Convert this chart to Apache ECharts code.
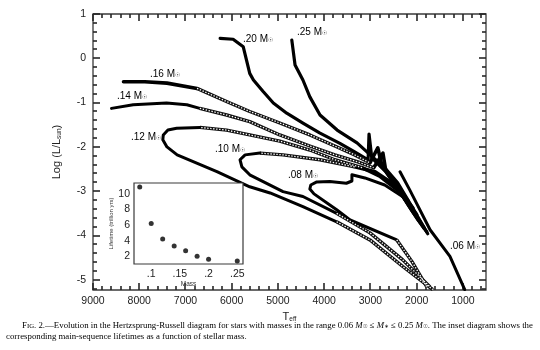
<!DOCTYPE html>
<html><head><meta charset="utf-8">
<script src="https://cdn.jsdelivr.net/npm/echarts@6/dist/echarts.min.js"></script>
<style>html,body{margin:0;padding:0;background:#fff}#c{width:540px;height:350px}</style>
</head><body><div id="c"></div>
<script>
// Evolutionary tracks: [Teff (K), log L/Lsun]
const track25 = [[4700,0.41],[4630,-0.15],[4460,-0.49],[4310,-0.87],[4090,-1.28],[3720,-1.62],[3290,-1.91],[2950,-2.23],[2690,-2.47],[2410,-2.81],[2100,-3.35],[1760,-3.96]];
const track20 = [[6250,0.45],[5970,0.43],[5750,0.26],[5680,-0.04],[5610,-0.34],[5530,-0.49],[5320,-0.75],[5100,-1.01],[4810,-1.24],[4450,-1.47],[4090,-1.69],[3660,-1.92],[3340,-2.11],[3050,-2.29],[3030,-1.71],[2970,-2.25],[2670,-2.56],[2320,-3.09],[1970,-3.65],[1780,-3.92]];
const track16Solid = [[8340,-0.53],[7880,-0.53],[7400,-0.56],[6750,-0.68]];
const track16Open = [[6750,-0.68],[6100,-0.98],[5610,-1.20],[4960,-1.46],[4310,-1.73],[3770,-1.98],[3340,-2.18],[3010,-2.36]];
const track16End = [[3010,-2.36],[2840,-2.02],[2750,-2.43],[2450,-2.86],[2100,-3.42],[1840,-3.83]];
const track14Solid = [[8600,-1.13],[8130,-1.05],[7410,-1.01],[6970,-1.05],[6690,-1.13]];
const track14Open = [[6690,-1.13],[6110,-1.28],[5610,-1.43],[4960,-1.73],[4310,-1.98],[3770,-2.18],[3270,-2.34],[2930,-2.47]];
const track14End = [[2930,-2.47],[2730,-2.14],[2670,-2.52],[2410,-2.93],[2080,-3.47],[1930,-3.69]];
const track12Start = [[2000,-3.53],[2360,-3.02],[2800,-2.66],[3180,-2.47]];
const track12Open = [[3180,-2.47],[3770,-2.29],[4310,-2.07],[4960,-1.87],[5610,-1.73],[6110,-1.62],[6690,-1.56]];
const track12Loop = [[6690,-1.56],[7190,-1.58],[7380,-1.62],[7480,-1.73],[7490,-1.84],[7400,-2.00],[7180,-2.18],[6320,-2.56],[5610,-2.90],[5170,-3.04],[4460,-3.35],[3730,-3.69]];
const track12Cool = [[3730,-3.69],[3010,-4.10],[2300,-4.70],[1650,-5.22]];
const track10Start = [[2080,-3.38],[2470,-2.86],[2900,-2.56],[3340,-2.45]];
const track10Open = [[3340,-2.45],[4090,-2.29],[4890,-2.18],[5390,-2.14]];
const track10Loop = [[5390,-2.14],[5710,-2.18],[5820,-2.29],[5780,-2.45],[5610,-2.63],[4890,-3.01],[4460,-3.12],[3730,-3.50]];
const track10Cool = [[3730,-3.50],[3010,-3.94],[2300,-4.55],[1710,-5.16]];
const track08Loop = [[2190,-3.20],[2690,-2.86],[3120,-2.70],[3400,-2.63],[3400,-2.77],[3520,-2.82],[3880,-2.78],[4160,-2.79],[4290,-2.86],[4310,-2.95],[4220,-3.06],[3730,-3.42],[3440,-3.65],[2430,-4.10]];
const track08Cool = [[2430,-4.10],[2100,-4.59],[1780,-5.16]];
const track06 = [[2360,-2.56],[2150,-2.97],[1710,-3.87],[1280,-4.47],[960,-5.22]];

// Inset: main-sequence lifetime vs stellar mass
const insetMass = [0.08, 0.10, 0.12, 0.14, 0.16, 0.18, 0.20, 0.25];
const insetLifetime = [10.9, 6.2, 4.2, 3.3, 2.7, 2.0, 1.6, 1.4];

// Axis ranges and tick values
const X_RANGE = [500, 9000];
const Y_RANGE = [-5.23, 1];
const IX_RANGE = [0.07, 0.26];
const IY_RANGE = [1, 11.4];
const xMajor = [1000,2000,3000,4000,5000,6000,7000,8000,9000];
const yMajor = [-5,-4,-3,-2,-1,0,1];
const insetXMajor = [0.1, 0.15, 0.2, 0.25];
const insetYMajor = [2, 4, 6, 8, 10];

const xMinor = [];
for (let v = 600; v <= 8800; v += 200) if (v % 1000) xMinor.push(v);
const yMinor = [];
for (let i = -26; i <= 4; i++) if (i % 5) yMinor.push(i / 5);
const insetXMinor = [];
for (let i = 8; i <= 25; i++) if (i % 5) insetXMinor.push(i / 100);
const insetYMinor = [3, 5, 7, 9, 11];

const FONT = 'Liberation Sans, Arial, Helvetica, sans-serif';
const SERIF = 'Liberation Serif, Times New Roman, serif';
const AXC = '#3a3a3a';
const TICKC = '#262626';

const subRich = {
  a: {fontSize: 11, fontFamily: FONT, color: '#222', lineHeight: 12, padding: [0,0,3,0]},
  s: {fontSize: 6.5, fontFamily: FONT, color: '#222', lineHeight: 7}
};

const xAxes = [
  {type: 'value', gridIndex: 0, position: 'bottom', min: X_RANGE[0], max: X_RANGE[1], inverse: true,
   axisLine: {show: false}, axisTick: {show: false}, splitLine: {show: false},
   axisLabel: {customValues: xMajor, formatter: v => String(v), color: '#222', fontSize: 10.5, fontFamily: FONT, margin: 6},
   name: '{a|T}{s|eff}', nameLocation: 'middle', nameGap: 19, nameTextStyle: {rich: subRich}},
  {type: 'value', gridIndex: 1, position: 'bottom', min: IX_RANGE[0], max: IX_RANGE[1], z: 11,
   axisLine: {show: false}, axisTick: {show: false}, splitLine: {show: false},
   axisLabel: {customValues: insetXMajor, formatter: v => String(+v.toFixed(2)).replace(/^0\./, '.'),
               color: '#222', fontSize: 10.5, fontFamily: FONT, margin: 5},
   name: 'Mass', nameLocation: 'middle', nameGap: 12, nameTextStyle: {fontSize: 6.5, fontFamily: FONT, color: '#333'}}
];
const yAxes = [
  {type: 'value', gridIndex: 0, position: 'left', min: Y_RANGE[0], max: Y_RANGE[1],
   axisLine: {show: false}, axisTick: {show: false}, splitLine: {show: false},
   axisLabel: {customValues: yMajor, color: '#222', fontSize: 10.5, fontFamily: FONT, margin: 7},
   name: '{a|Log (L/L}{s|sun}{a|)}', nameLocation: 'middle', nameGap: 26, nameRotate: 90, nameTextStyle: {rich: subRich}},
  {type: 'value', gridIndex: 1, position: 'left', min: IY_RANGE[0], max: IY_RANGE[1], z: 11,
   axisLine: {show: false}, axisTick: {show: false}, splitLine: {show: false},
   axisLabel: {customValues: insetYMajor, color: '#222', fontSize: 10.5, fontFamily: FONT, margin: 4},
   name: 'Lifetime (trillion yrs)', nameLocation: 'middle', nameGap: 17, nameRotate: 90,
   nameTextStyle: {fontSize: 6, fontFamily: FONT, color: '#333'}}
];

function solid(data, w) {
  return {type: 'line', data: data, xAxisIndex: 0, yAxisIndex: 0, showSymbol: false, silent: true,
          lineStyle: {color: '#000', width: w || 3, cap: 'round', join: 'round'}, z: 3};
}
// chain-of-open-circles look: dark band with a dashed white core
function open(data) {
  return [
    {type: 'line', data: data, xAxisIndex: 0, yAxisIndex: 0, showSymbol: false, silent: true,
     lineStyle: {color: '#111', width: 3.4, join: 'round'}, z: 3},
    {type: 'line', data: data, xAxisIndex: 0, yAxisIndex: 0, showSymbol: false, silent: true,
     lineStyle: {color: '#fff', width: 1.3, type: [1.4, 1.6]}, z: 4}
  ];
}

const series = [].concat(
  solid(track25, 3.2), solid(track20, 3.2),
  solid(track16Solid, 3.6), open(track16Open), solid(track16End, 3.6),
  solid(track14Solid), open(track14Open), solid(track14End, 3.6),
  solid(track12Start, 3.6), open(track12Open), solid(track12Loop), open(track12Cool),
  solid(track10Start, 3.6), open(track10Open), solid(track10Loop), open(track10Cool),
  solid(track08Loop), open(track08Cool),
  solid(track06),
  [{type: 'scatter', xAxisIndex: 1, yAxisIndex: 1, symbol: 'circle', symbolSize: 5,
    itemStyle: {color: '#000'}, z: 12, silent: true,
    data: insetMass.map((m, i) => [m, insetLifetime[i]])}]
);

const labelRich = {
  a: {fontSize: 10, fontFamily: FONT, color: '#222', lineHeight: 11, padding: [0,0,2,0]},
  s: {fontSize: 6, fontFamily: 'DejaVu Sans, sans-serif', color: '#222', lineHeight: 6}
};
const trackLabels = [
  ['.25 M', 297, 33], ['.20 M', 243, 40], ['.16 M', 150, 75], ['.14 M', 117, 97],
  ['.12 M', 131, 138], ['.10 M', 215, 150], ['.08 M', 288, 176], ['.06 M', 450, 247]
];
const graphics = trackLabels.map(t => ({
  type: 'text', x: t[1], y: t[2],
  style: {text: '{a|' + t[0] + '}{s|\u2609}', rich: labelRich, align: 'left', verticalAlign: 'middle'}
}));

const capRich = {
  t: {fontSize: 8.8, fontFamily: SERIF, color: '#222', lineHeight: 10, padding: [0,0,2,0]},
  sc: {fontSize: 6.8, fontFamily: SERIF, color: '#222', lineHeight: 10, padding: [0,0,2,0]},
  i: {fontSize: 8.8, fontFamily: SERIF, fontStyle: 'italic', color: '#222', lineHeight: 10, padding: [0,0,2,0]},
  sub: {fontSize: 5.5, fontFamily: 'DejaVu Sans, sans-serif', color: '#222', lineHeight: 6}
};
graphics.push({
  type: 'text', x: 22, y: 327,
  style: {text: '{t|F}{sc|IG}{t|. 2.\u2014Evolution in the Hertzsprung-Russell diagram for stars with masses in the range 0.06 }{i|M}{sub|\u2609}{t| \u2264 }{i|M}{sub|\u2217}{t| \u2264 0.25 }{i|M}{sub|\u2609}{t|. The inset diagram shows the}',
          rich: capRich, align: 'left', verticalAlign: 'middle'}
});
graphics.push({
  type: 'text', x: 6, y: 338,
  style: {text: '{t|corresponding main-sequence lifetimes as a function of stellar mass.}',
          rich: capRich, align: 'left', verticalAlign: 'middle'}
});

const chart = echarts.init(document.getElementById('c'));
chart.setOption({
  animation: false,
  backgroundColor: '#fff',
  grid: [
    {left: 93, top: 14, width: 393, height: 276, show: true, backgroundColor: 'transparent',
     borderColor: AXC, borderWidth: 1.3},
    {left: 134, top: 183, width: 109, height: 81, show: true, backgroundColor: '#fff',
     borderColor: AXC, borderWidth: 1.2, z: 10}
  ],
  xAxis: xAxes,
  yAxis: yAxes,
  series: series,
  graphic: graphics
});

// Inward tick marks on all four sides of each frame: pixel-snapped bars positioned
// through the axis scales, so they stay crisp and dark at small sizes.
const tickEls = [];
function addTicks(gi, values, side, len, xr, yr) {
  const W = 1.6;
  values.forEach(v => {
    let p;
    if (side === 'bottom') p = chart.convertToPixel({gridIndex: gi}, [v, yr[0]]);
    else if (side === 'top') p = chart.convertToPixel({gridIndex: gi}, [v, yr[1]]);
    else if (side === 'left') p = chart.convertToPixel({gridIndex: gi}, [gi === 0 ? xr[1] : xr[0], v]);
    else p = chart.convertToPixel({gridIndex: gi}, [gi === 0 ? xr[0] : xr[1], v]);
    const px = Math.round(p[0]), py = Math.round(p[1]);
    let r;
    if (side === 'bottom') r = {x: px - W / 2, y: py - len, width: W, height: len};
    else if (side === 'top') r = {x: px - W / 2, y: py, width: W, height: len};
    else if (side === 'left') r = {x: px, y: py - W / 2, width: len, height: W};
    else r = {x: px - len, y: py - W / 2, width: len, height: W};
    tickEls.push({type: 'rect', shape: r, style: {fill: TICKC}});
  });
}
[['bottom', xMajor, 7], ['bottom', xMinor, 4], ['top', xMajor, 7], ['top', xMinor, 4],
 ['left', yMajor, 7], ['left', yMinor, 4], ['right', yMajor, 7], ['right', yMinor, 4]]
  .forEach(s => addTicks(0, s[1], s[0], s[2], X_RANGE, Y_RANGE));
[['bottom', insetXMajor, 5], ['bottom', insetXMinor, 3], ['top', insetXMajor, 5], ['top', insetXMinor, 3],
 ['left', insetYMajor, 5], ['left', insetYMinor, 3], ['right', insetYMajor, 5], ['right', insetYMinor, 3]]
  .forEach(s => addTicks(1, s[1], s[0], s[2], IX_RANGE, IY_RANGE));
chart.setOption({graphic: graphics.concat(tickEls)});
</script>
</body></html>
